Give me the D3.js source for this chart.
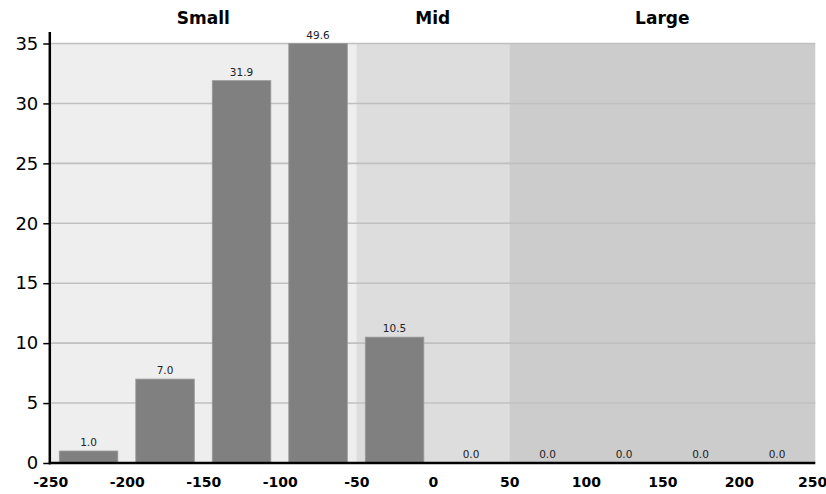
<!DOCTYPE html>
<html>
<head>
<meta charset="utf-8">
<script src="https://cdn.jsdelivr.net/npm/d3@7"></script>
<style>
  html, body { margin: 0; padding: 0; background: #fff; }
  svg { display: block; }
  text { font-family: "DejaVu Sans", Verdana, sans-serif; }
</style>
</head>
<body>
<svg id="chart" width="826" height="494"></svg>
<script>
// ---- data ----
const binEdges = [-250, -200, -150, -100, -50, 0, 50, 100, 150, 200, 250];
const binLabels = ["-250", "-200", "-150", "-100", "-50", "0", "50", "100", "150", "200"];
const values = [1.0, 7.0, 31.9, 49.6, 10.5, 0.0, 0.0, 0.0, 0.0, 0.0];
const regionNames = ["Small", "Mid", "Large"];
const regionStarts = [-250, -50, 50];
const regionEnds = [-50, 50, 250];
const yTicks = [0, 5, 10, 15, 20, 25, 30, 35];
const yMax = 35;

// ---- styles ----
const regionFill = ["#eeeeee", "#dddddd", "#cccccc"];
const W = 826, H = 494;
const mLeft = 50.3, mRight = 815.3, mTop = 43.5, mBottom = 463;

const svg = d3.select("#chart");

const x = d3.scaleLinear().domain([binEdges[0], binEdges[binEdges.length - 1]]).range([mLeft, mRight]);
const xb = d3.scaleBand().domain(binLabels).range([mLeft, mRight]).paddingInner(0.235).paddingOuter(0.1175);
const y = d3.scaleLinear().domain([0, yMax]).range([mBottom, mTop]);

// region backgrounds
svg.append("g").selectAll("rect").data(regionNames).join("rect")
  .attr("x", (d, i) => x(regionStarts[i]))
  .attr("y", mTop)
  .attr("width", (d, i) => x(regionEnds[i]) - x(regionStarts[i]))
  .attr("height", mBottom - mTop)
  .attr("fill", (d, i) => regionFill[i]);

// region titles
svg.append("g").selectAll("text").data(regionNames).join("text")
  .attr("x", (d, i) => (x(regionStarts[i]) + x(regionEnds[i])) / 2)
  .attr("y", 24)
  .attr("text-anchor", "middle")
  .attr("font-weight", "bold")
  .attr("font-size", 17)
  .attr("fill", "#000")
  .text(d => d);

// gridlines
svg.append("g").selectAll("line").data(yTicks.filter(t => t > 0)).join("line")
  .attr("x1", mLeft + 1).attr("x2", mRight)
  .attr("y1", d => y(d)).attr("y2", d => y(d))
  .attr("stroke", "#c0c0c0").attr("stroke-width", 1.6);

// bars
svg.append("g").selectAll("rect").data(values).join("rect")
  .attr("x", (d, i) => xb(binLabels[i]))
  .attr("y", d => y(Math.min(d, yMax)))
  .attr("width", xb.bandwidth())
  .attr("height", d => mBottom - y(Math.min(d, yMax)))
  .attr("fill", "#808080")
  .attr("stroke", "#999999")
  .attr("stroke-width", 0.8);

// value labels
svg.append("g").selectAll("text").data(values).join("text")
  .attr("x", (d, i) => xb(binLabels[i]) + xb.bandwidth() / 2)
  .attr("y", d => y(Math.min(d, yMax)) - 5)
  .attr("text-anchor", "middle")
  .attr("font-size", 10.5)
  .attr("fill", "#222")
  .text(d => d.toFixed(1));

// y axis
const yAxis = svg.append("g")
  .attr("transform", `translate(${mLeft},0)`)
  .call(d3.axisLeft(y).tickValues(yTicks).tickSize(7).tickPadding(5).tickFormat(d => String(d)));
yAxis.select(".domain").remove();
yAxis.selectAll(".tick line").attr("stroke", "#000").attr("stroke-width", 1.5);
yAxis.selectAll(".tick text").attr("font-size", 18).attr("fill", "#000")
  .attr("font-family", "'DejaVu Sans', Verdana, sans-serif");
svg.append("line")
  .attr("x1", mLeft - 0.5).attr("x2", mLeft - 0.5)
  .attr("y1", 32).attr("y2", mBottom + 1.2)
  .attr("stroke", "#000").attr("stroke-width", 2.5);

// x axis
const xAxis = svg.append("g")
  .attr("transform", `translate(0,${mBottom})`)
  .call(d3.axisBottom(x).tickValues(binEdges).tickSize(0).tickPadding(14).tickFormat(d => String(d)));
xAxis.select(".domain").remove();
xAxis.selectAll(".tick text")
  .attr("font-size", 14).attr("font-weight", "bold").attr("fill", "#000")
  .attr("font-family", "'DejaVu Sans', Verdana, sans-serif")
  .attr("x", d => Math.min(x(d), W - 14) - x(d));
svg.append("line")
  .attr("x1", mLeft - 1.5).attr("x2", mRight)
  .attr("y1", mBottom).attr("y2", mBottom)
  .attr("stroke", "#000").attr("stroke-width", 2.5);
</script>
</body>
</html>
